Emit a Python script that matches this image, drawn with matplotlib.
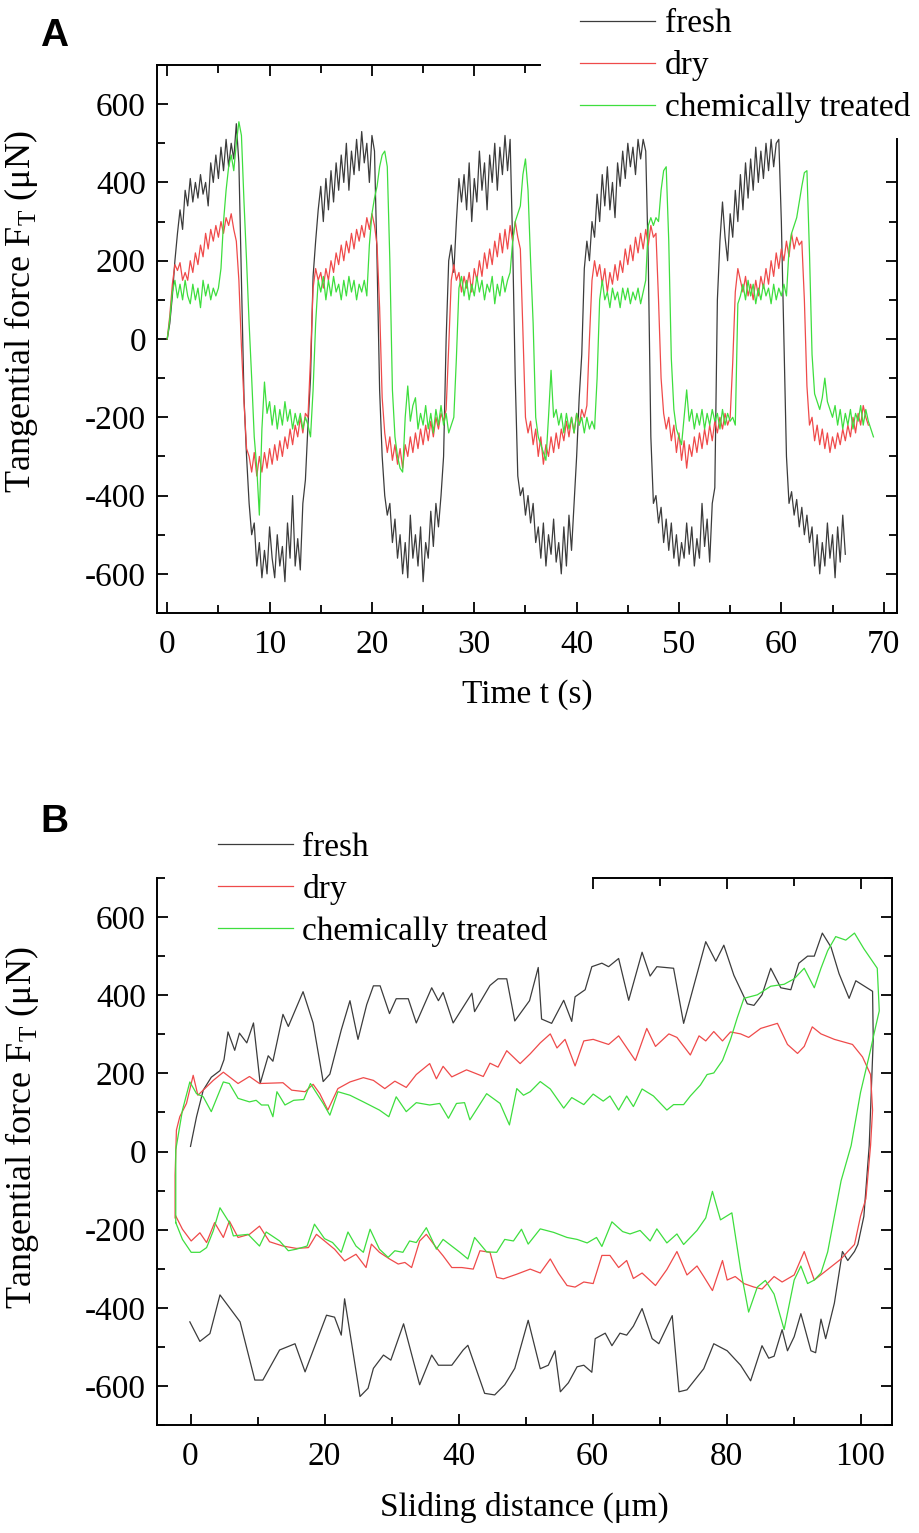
import numpy as np
import matplotlib
matplotlib.use("Agg")
import matplotlib.pyplot as plt
from matplotlib.ticker import MultipleLocator

plt.rcParams['font.family'] = 'Liberation Serif'
plt.rcParams['font.size'] = 24
plt.rcParams['axes.unicode_minus'] = False
plt.rcParams['mathtext.fontset'] = 'custom'
plt.rcParams['mathtext.rm'] = 'Liberation Serif'

# ---- panel A: tangential force vs time, sampled every 0.25 s ----
DT = 0.25
fresh_a = [
    0, 40, 110, 200, 270, 330, 280, 380,
    340, 410, 350, 400, 360, 420, 370, 400,
    340, 450, 400, 470, 410, 490, 430, 510,
    440, 500, 460, 550, 450, 150, -150, -300,
    -420, -500, -470, -580, -520, -610, -540, -600,
    -480, -560, -610, -500, -580, -530, -620, -470,
    -560, -400, -580, -510, -590, -420, -360, -220,
    -100, 160, 250, 330, 390, 300, 410, 330,
    430, 350, 450, 380, 470, 400, 500, 380,
    480, 420, 510, 430, 530, 450, 500, 400,
    520, 480, 200, -130, -300, -400, -450, -420,
    -520, -460, -560, -500, -600, -520, -610, -450,
    -560, -500, -580, -480, -620, -520, -560, -440,
    -530, -420, -480, -400, -300, 0, 200, 240,
    170, 300, 410, 350, 420, 330, 450, 300,
    410, 350, 480, 380, 450, 330, 470, 400,
    500, 380, 490, 420, 520, 430, 510, 240,
    -100, -350, -400, -380, -450, -400, -470, -420,
    -520, -480, -560, -470, -580, -500, -550, -460,
    -570, -520, -600, -480, -580, -450, -540, -420,
    -300, -150, -40, 180, 250, 200, 300, 260,
    370, 300, 420, 340, 440, 330, 400, 310,
    450, 390, 480, 410, 500, 440, 490, 420,
    510, 460, 510, 480, 200, -250, -420, -400,
    -470, -430, -520, -460, -540, -470, -560, -500,
    -580, -520, -560, -470, -550, -480, -580, -510,
    -560, -420, -530, -460, -570, -420, -380, 100,
    250, 350, 260, 200, 320, 260, 380, 300,
    420, 330, 450, 360, 460, 380, 490, 400,
    480, 410, 500, 430, 510, 440, 500, 510,
    300, 0, -300, -420, -390, -450, -410, -480,
    -430, -500, -450, -520, -480, -580, -500, -600,
    -520, -580, -470, -560, -500, -610, -480, -570,
    -450, -550]

dry_a = [
    0, 60, 140, 190, 175, 195, 150, 170,
    150, 200, 170, 220, 190, 240, 210, 270,
    230, 280, 250, 290, 260, 300, 270, 310,
    290, 320, 280, 250, 150, -20, -160, -280,
    -300, -340, -290, -350, -300, -340, -290, -330,
    -280, -320, -270, -310, -260, -300, -250, -280,
    -230, -270, -220, -250, -200, -240, -190, -200,
    -50, 130, 180, 150, 170, 130, 180, 150,
    200, 170, 220, 190, 240, 200, 250, 220,
    270, 230, 280, 250, 290, 260, 310, 280,
    320, 290, 240, 80, -150, -240, -290, -250,
    -310, -270, -320, -280, -330, -270, -300, -250,
    -290, -240, -280, -230, -270, -220, -260, -210,
    -250, -200, -230, -190, -210, -180, -20, 150,
    190, 150, 170, 120, 160, 130, 170, 120,
    180, 150, 200, 160, 220, 180, 230, 190,
    250, 210, 270, 220, 280, 230, 290, 250,
    300, 260, 230, 20, -200, -240, -210, -270,
    -230, -300, -250, -320, -270, -300, -250, -290,
    -240, -280, -230, -260, -210, -250, -200, -240,
    -190, -220, -180, -200, -170, 0, 150, 200,
    160, 190, 140, 180, 120, 170, 140, 190,
    150, 200, 170, 230, 190, 240, 200, 260,
    220, 270, 230, 280, 240, 290, 260, 270,
    100, -100, -190, -230, -200, -260, -220, -290,
    -240, -310, -260, -330, -270, -300, -250, -290,
    -240, -280, -230, -270, -220, -260, -210, -240,
    -200, -230, -190, -220, -200, -60, 120, 180,
    150, 120, 160, 110, 140, 100, 150, 110,
    160, 130, 180, 140, 200, 160, 220, 180,
    230, 200, 250, 210, 270, 230, 260, 240,
    250, 100, -120, -220, -200, -260, -220, -270,
    -230, -280, -240, -290, -250, -280, -240, -270,
    -230, -260, -220, -250, -200, -240, -190, -220,
    -170, -200, -220]

chem_a = [
    0, 50, 120, 150, 105, 140, 100, 150,
    110, 90, 140, 100, 130, 80, 150, 110,
    140, 100, 130, 110, 130, 180, 300, 380,
    440, 470, 430, 500, 555, 520, 350, 200,
    40, -100, -250, -330, -450, -230, -110, -190,
    -160, -220, -170, -230, -180, -220, -160, -210,
    -180, -230, -190, -220, -190, -230, -200, -220,
    -250, -130, 40, 150, 120, 160, 100, 150,
    110, 160, 120, 140, 100, 150, 110, 160,
    120, 150, 100, 140, 120, 150, 110, 240,
    320, 360, 390, 440, 470, 480, 440, 200,
    -130, -250, -300, -330, -340, -200, -120, -210,
    -170, -150, -230, -190, -220, -170, -230, -190,
    -240, -180, -220, -170, -220, -190, -240, -220,
    -200, -50, 130, 160, 110, 150, 100, 140,
    110, 160, 120, 150, 100, 140, 120, 160,
    90, 140, 110, 160, 120, 150, 170, 250,
    300, 320, 340, 420, 460, 380, 200, 40,
    -200, -250, -270, -290, -310, -200, -80, -200,
    -180, -220, -190, -240, -190, -230, -200, -240,
    -190, -220, -200, -240, -200, -230, -210, -230,
    -100, 100, 150, 100, 120, 80, 130, 100,
    120, 80, 130, 100, 130, 90, 120, 100,
    130, 90, 120, 150, 290, 310, 290, 310,
    300, 380, 430, 440, 250, -50, -180, -230,
    -250, -270, -200, -130, -210, -180, -230, -190,
    -220, -180, -230, -190, -220, -180, -210, -190,
    -230, -180, -220, -190, -210, -200, -220, 90,
    110, 140, 100, 150, 110, 140, 90, 130,
    100, 140, 110, 130, 90, 140, 100, 130,
    110, 140, 110, 230, 270, 290, 310, 350,
    390, 425, 430, 220, -40, -140, -160, -180,
    -150, -100, -160, -180, -200, -170, -220, -180,
    -230, -190, -220, -180, -230, -190, -210, -170,
    -220, -180, -210, -230, -250]

# ---- panel B: one friction loop vs sliding distance ----
fresh_bx = [0, 0.9, 1.9, 3.1, 4.4, 5.0, 5.6, 6.6, 7.3, 8.4, 9.4, 10.4, 11.6, 12.3,
            13.8, 14.6, 16.8, 18.3, 19.8, 20.8, 22.5, 23.8, 25.0, 26.3, 27.3, 28.3,
            29.7, 30.7, 32.5, 33.7, 36.0, 37.0, 37.7, 39.2, 42.0, 42.4, 44.7, 45.9,
            47.2, 48.4, 50.6, 51.9, 52.4, 53.9, 55.7, 56.9, 57.4, 58.9, 59.9, 61.4,
            62.4, 63.9, 65.4, 67.4, 68.6, 69.6, 72.1, 73.6, 76.9, 78.4, 79.6, 81.1,
            83.1, 84.1, 85.3, 86.6, 88.1, 89.6, 90.8, 92.1, 93.1, 94.3, 95.6, 96.8,
            98.3, 99.3, 101.8, 101.9, 101.3, 100.5, 99.6, 99.1, 98.1, 97.3, 96.1,
            94.8, 94.1, 93.3, 92.6, 91.1, 90.1, 89.1, 88.3, 87.1, 86.3, 85.3, 83.6,
            82.1, 80.1, 78.1, 76.6, 74.1, 72.9, 71.9, 69.9, 68.9, 67.4, 66.1, 65.1,
            64.1, 62.9, 61.9, 60.4, 59.9, 58.7, 57.7, 56.4, 55.2, 54.4, 53.4, 52.2,
            50.4, 48.4, 46.9, 45.4, 43.9, 41.4, 40.7, 39.0, 37.0, 36.0, 34.2, 31.8,
            29.9, 28.8, 27.3, 26.5, 25.3, 23.0, 22.5, 21.5, 20.3, 17.1, 15.6, 13.3,
            10.8, 9.6, 7.4, 4.4, 2.9, 1.4, -0.1]
fresh_bf = [13, 89, 157, 190, 207, 235, 306, 259, 303, 278, 329, 174, 245, 231,
            351, 320, 409, 329, 179, 198, 311, 386, 287, 376, 424, 424,
            353, 391, 391, 329, 419, 386, 407, 329, 405, 358, 425, 442,
            442, 334, 386, 471, 339, 328, 387, 333, 396, 414, 473, 482,
            473, 494, 387, 510, 449, 473, 469, 328, 537, 487, 528, 451,
            378, 374, 401, 469, 419, 414, 482, 500, 500, 559, 523, 455,
            392, 437, 410, 287, 15, -166, -238, -256, -279, -256, -388,
            -479, -429, -515, -510, -415, -474, -510, -456, -524, -529, -497, -587,
            -547, -510, -492, -556, -610, -615, -420, -492, -479, -402, -447, -470,
            -465, -497, -465, -479, -565, -547, -551, -592, -615, -510, -547, -556,
            -432, -555, -597, -623, -619, -496, -508, -547, -547, -521, -597, -441,
            -534, -521, -555, -606, -627, -377, -470, -424, -419, -564, -492, -508,
            -585, -585, -436, -367, -466, -486, -436]

dry_bx = [-2.3, -2.3, -2.1, -1.6, -0.6, 0.4, 1.1, 1.9, 3.4, 4.9, 7.1, 8.8, 10.3, 12.3,
          13.8, 15.1, 17.1, 18.3, 19.3, 20.5, 22.0, 23.8, 25.8, 27.3, 29.0, 30.5,
          32.2, 33.7, 35.7, 36.7, 37.7, 39.0, 41.2, 43.7, 44.7, 45.9, 47.2, 49.2,
          50.7, 52.2, 53.7, 54.7, 55.9, 57.4, 58.7, 60.1, 62.4, 63.9, 66.4, 68.1,
          69.4, 71.4, 72.6, 74.6, 75.9, 76.9, 78.1, 79.4, 80.6, 82.1, 83.3, 85.1,
          87.6, 89.1, 90.6, 91.6, 92.8, 94.1, 96.1, 98.8, 100.3, 101.5, 101.8, 101.5,
          100.8, 100.0, 99.1, 98.1, 97.1, 95.1, 93.1, 91.6, 90.1, 88.3, 87.1, 85.3,
          84.1, 82.6, 81.3, 80.1, 79.4, 77.9, 76.6, 75.6, 74.1, 72.6, 71.1, 69.4,
          67.4, 66.1, 65.1, 63.9, 62.6, 61.4, 60.1, 58.7, 57.4, 56.2, 54.9, 53.7,
          52.2, 50.7, 48.7, 46.7, 45.7, 44.7, 43.2, 42.2, 40.5, 39.0, 37.7, 36.5,
          35.2, 34.2, 33.0, 32.0, 31.0, 29.7, 28.2, 27.0, 26.2, 24.7, 23.0, 21.5,
          20.3, 18.8, 17.6, 15.8, 13.8, 11.8, 10.3, 8.8, 7.1, 5.8, 4.9, 3.6, 2.4,
          1.4, 0.1, -1.2, -2.2]
dry_bf = [-170, -60, 55, 89, 123, 195, 144, 157, 182, 203, 174, 192, 174, 175,
          176, 157, 153, 172, 148, 106, 161, 178, 189, 182, 161, 180,
          164, 197, 225, 186, 218, 191, 209, 192, 226, 216, 258, 225,
          250, 278, 301, 265, 287, 219, 283, 287, 274, 296, 233, 315,
          269, 301, 292, 247, 296, 283, 307, 283, 306, 301, 292, 315,
          328, 274, 251, 269, 319, 301, 287, 274, 242, 197, 106, 15,
          -121, -166, -238, -256, -275, -302, -329, -256, -316, -334, -320, -352,
          -347, -338, -320, -329, -279, -356, -320, -293, -316, -256, -302, -343,
          -311, -325, -279, -297, -266, -266, -338, -334, -347, -343, -311, -275,
          -311, -301, -314, -326, -322, -258, -254, -301, -297, -297, -267, -242,
          -212, -229, -297, -284, -288, -275, -258, -237, -297, -263, -280, -250,
          -233, -212, -246, -248, -242, -231, -191, -212, -220, -178, -220, -182, -233,
          -208, -229, -199, -165]

chem_bx = [-2.2, -2.2, -1.7, -1.2, -0.1, 0.9, 1.9, 3.1, 4.9, 5.8, 7.1, 8.8, 9.8, 10.6,
           11.6, 12.3, 12.9, 14.1, 15.4, 16.9, 17.9, 19.8, 20.8, 22.0, 23.8, 25.8,
           28.2, 29.6, 30.7, 32.2, 33.7, 35.7, 37.2, 38.5, 39.7, 40.9, 41.7, 44.2,
           46.2, 47.6, 48.7, 49.7, 50.7, 52.2, 53.7, 55.7, 56.9, 58.7, 60.1, 61.6,
           62.6, 63.9, 65.1, 66.1, 67.4, 69.1, 71.1, 72.1, 73.6, 74.6, 76.1, 77.1,
           78.1, 79.4, 80.6, 81.6, 82.6, 84.6, 86.6, 88.6, 90.1, 91.6, 93.1, 94.1,
           95.1, 96.3, 97.8, 99.1, 100.5, 102.5, 102.8, 102.0, 101.5, 100.0, 98.6,
           97.1, 96.1, 95.1, 94.1, 93.1, 92.1, 91.1, 90.1, 88.6, 87.1, 85.8, 84.6,
           83.3, 82.1, 80.8, 79.1, 77.9, 76.9, 75.6, 73.6, 72.6, 71.1, 69.6, 68.6,
           67.1, 65.6, 64.5, 62.9, 61.4, 60.6, 59.2, 57.7, 56.2, 54.2, 52.2, 50.4,
           49.4, 48.2, 46.9, 45.7, 44.2, 42.4, 41.4, 40.2, 37.7, 36.7, 35.2, 33.7,
           32.7, 31.7, 30.5, 29.5, 28.2, 26.8, 25.8, 24.7, 23.5, 22.5, 21.2, 20.0,
           18.5, 17.4, 15.8, 14.6, 13.3, 11.3, 10.3, 8.6, 6.4, 5.8, 4.4, 3.4, 2.4,
           1.4, 0.1, -1.2, -2.2]
chem_bf = [-182, 4, 55, 106, 178, 148, 140, 102, 178, 174, 136, 127, 131, 119,
           119, 89, 153, 119, 131, 133, 174, 123, 93, 153, 144, 127,
           106, 89, 140, 102, 125, 119, 123, 85, 123, 125, 81, 148,
           123, 68, 161, 144, 153, 179, 160, 111, 138, 120, 147, 129,
           142, 106, 142, 115, 160, 142, 106, 120, 120, 142, 170, 197,
           201, 233, 287, 342, 392, 401, 423, 428, 442, 469, 419, 469,
           514, 550, 541, 559, 519, 469, 360, 300, 260, 151, 15,
           -75, -166, -257, -311, -329, -338, -293, -329, -456, -365, -330, -347,
           -411, -302, -157, -175, -102, -170, -202, -238, -211, -234, -198, -229,
           -202, -211, -205, -180, -243, -220, -234, -225, -220, -207, -198, -237,
           -199, -229, -225, -258, -257, -220, -275, -258, -225, -250, -195, -233,
           -229, -258, -254, -271, -250, -199, -258, -242, -206, -258, -233, -223,
           -186, -242, -250, -254, -229, -206, -242, -212, -216, -182, -144, -203, -246,
           -258, -258, -225, -182]

labels = ["fresh", "dry", "chemically treated"]
colors = ["#3c3c3c", "#ef4a4a", "#3ede3e"]
ylab = "Tangential force F$_\\mathregular{T}$ (\u03bcN)"

fig = plt.figure(figsize=(9.19, 15.33), dpi=100)
axA = fig.add_axes([157 / 919, 1 - 613 / 1533, 740 / 919, 548 / 1533])
axB = fig.add_axes([157 / 919, 1 - 1425 / 1533, 735 / 919, 547 / 1533])


def style(ax, xmaj, xmin):
    ax.set_ylim(-700, 700)
    ax.xaxis.set_major_locator(MultipleLocator(xmaj))
    ax.xaxis.set_minor_locator(MultipleLocator(xmin))
    ax.yaxis.set_major_locator(MultipleLocator(200))
    ax.yaxis.set_minor_locator(MultipleLocator(100))
    ax.tick_params(which="both", direction="in", top=True, right=True, width=1.3)
    ax.tick_params(which="major", length=8)
    ax.tick_params(which="minor", length=6)
    ax.tick_params(axis="x", pad=12)
    ax.tick_params(axis="y", pad=8)
    for s in ax.spines.values():
        s.set_linewidth(1.4)
    ax.set_ylabel(ylab, fontsize=26)


# panel A
for vals, c, lab in zip([fresh_a, dry_a, chem_a], colors, labels):
    t = np.arange(len(vals)) * DT
    axA.plot(t, vals, color=c, lw=0.9, label=lab, zorder=2)
axA.set_xlim(-1, 71.3)
style(axA, 10, 5)
axA.set_xlabel("Time t (s)", labelpad=14)
axA.yaxis.set_label_coords(-0.158, 0.55)
axA.spines["top"].set_bounds(-1, 36.4)
axA.spines["right"].set_bounds(-700, 510)
legA = axA.legend(loc="upper left", bbox_to_anchor=(545 / 919, 1 + 26 / 1533),
                  bbox_transform=fig.transFigure, frameon=True, facecolor="white",
                  edgecolor="none", fancybox=False, framealpha=1, borderpad=1.05,
                  borderaxespad=0, handlelength=2.25, handletextpad=0.3,
                  labelspacing=0.33)
legA.set_zorder(1.8)

# panel B
for xs, fs, c, lab in zip([fresh_bx, dry_bx, chem_bx], [fresh_bf, dry_bf, chem_bf],
                          colors, labels):
    axB.plot(xs, fs, color=c, lw=0.9, label=lab, zorder=2)
axB.set_xlim(-5, 104.7)
style(axB, 20, 10)
axB.set_xlabel("Sliding distance (\u03bcm)", labelpad=14)
axB.yaxis.set_label_coords(-0.158, 0.543)
axB.spines["top"].set_bounds(60, 104.7)
legB = axB.legend(loc="upper left", bbox_to_anchor=(175 / 919, 1 - 789 / 1533),
                  bbox_transform=fig.transFigure, frameon=True, facecolor="white",
                  edgecolor="none", fancybox=False, framealpha=1, borderpad=1.3,
                  borderaxespad=0, handlelength=2.25, handletextpad=0.27,
                  labelspacing=0.33)
legB.set_zorder(1.8)

fig.text(54 / 919, 1 - 36 / 1533, "A", ha="center", va="center",
         family="Liberation Sans", weight="bold", fontsize=28)
fig.text(54 / 919, 1 - 822 / 1533, "B", ha="center", va="center",
         family="Liberation Sans", weight="bold", fontsize=28)

fig.savefig("out.png", dpi=100)
